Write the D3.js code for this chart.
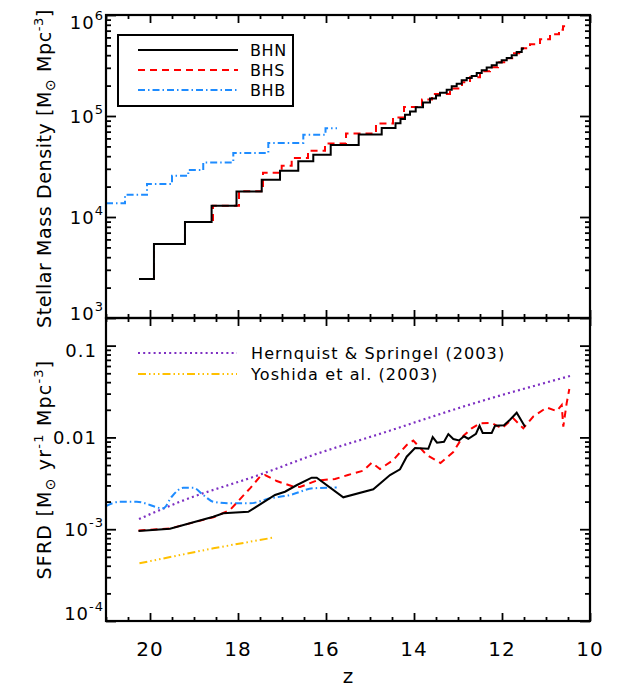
<!DOCTYPE html>
<html><head><meta charset="utf-8">
<script src="https://cdn.jsdelivr.net/npm/d3@7"></script>
<style>
body{margin:0;background:#fff}
svg{display:block}
text{font-family:"DejaVu Sans",sans-serif;fill:#000}
</style>
</head><body><svg id="c" width="625" height="692"></svg>
<script>
// ---------------- data ----------------
// Top panel: stellar mass density (step functions)
const bhnZ    = [20.25,19.91,19.205,18.6,18.034,17.461,17.045,16.63,16.289,15.893,15.257,14.734,14.42,14.307,14.205,14.091,13.961,13.795,13.636,13.5,13.409,13.257,13.143,13.03,12.916,12.802,12.689,12.575,12.461,12.348,12.234,12.12,12.007,11.893,11.78,11.666,11.552,11.5];
const bhnMass = [2430,5410,8930,12890,17890,23380,28720,35700,41420,51720,65500,75970,84800,93350,102800,110800,122300,136200,149300,159900,170100,182200,196500,209000,225400,237600,248700,266300,283400,301400,317800,338000,356200,375500,399500,430800,465600,465600];
const bhsZ    = [20.25,19.909,19.205,18.568,17.977,17.432,17.007,16.78,16.409,16.023,15.545,14.864,14.477,14.227,13.818,13.591,13.182,12.909,12.727,12.5,12.273,12.091,11.909,11.727,11.545,11.364,11.136,10.909,10.705,10.614,10.523];
const bhsMass = [2430,5410,8930,12890,17970,27450,32210,38420,45410,53290,66990,84230,96630,122900,145900,165400,187700,215300,241400,276900,303500,340200,372900,418100,468800,513600,575900,645800,715800,775800,775800];
const bhbZ    = [21,20.568,20.068,19.5,19.13,18.79,18.107,17.311,16.516,16.011,15.75];
const bhbMass = [13700,16590,21180,25620,29180,34740,43080,54140,65040,75620,75620];

// Bottom panel: star formation rate density
const sfrdBhnZ = [20.261,19.545,18.561,18.334,17.766,17.159,16.932,16.659,16.325,16.211,15.607,14.925,14.545,14.318,14.166,13.977,13.675,13.575,13.477,13.318,13.22,13.107,12.977,12.864,12.766,12.591,12.511,12.439,12.234,12.159,11.955,11.818,11.666,11.477];
const sfrdBhn  = [0.000956,0.001012,0.001368,0.00149,0.001547,0.002358,0.002562,0.003031,0.00364,0.00364,0.002227,0.002721,0.003895,0.004494,0.006163,0.007662,0.007529,0.0101,0.008756,0.008979,0.01089,0.009607,0.009252,0.01028,0.009679,0.01097,0.01338,0.01117,0.01117,0.01338,0.01355,0.01559,0.01858,0.01308];
const sfrdBhsZ = [20.261,19.545,18.561,18.182,17.727,17.5,17.386,17.12,16.75,16.591,16.211,15.795,15.5,15.152,14.961,14.773,14.47,14.166,14.016,13.711,13.398,13.107,12.88,12.689,12.5,12.234,12.007,11.743,11.516,11.289,10.984,10.757,10.643,10.607,10.53,10.47];
const sfrdBhs  = [0.000968,0.001018,0.001348,0.001619,0.00279,0.003732,0.003895,0.00335,0.002918,0.002882,0.003392,0.003521,0.003895,0.00434,0.005303,0.004528,0.005673,0.008265,0.009252,0.006431,0.005262,0.006934,0.01036,0.01256,0.01424,0.01435,0.01256,0.01614,0.01256,0.01689,0.02117,0.01939,0.02254,0.01308,0.02369,0.03366];
const sfrdBhbZ = [21,20.682,20.302,19.698,19.507,19.243,19.016,18.789,18.561,18.182,17.727,17.273,16.818,16.289,15.757];
const sfrdBhb  = [0.001789,0.001993,0.001993,0.001689,0.002259,0.002831,0.002831,0.002358,0.001993,0.001914,0.001914,0.002171,0.002358,0.00279,0.002845];
const hsZ    = [20.25,19.318,17.43,16.289,14.75,12.727,10.455];
const hsSfrd = [0.00129,0.001993,0.00404,0.006431,0.01103,0.02283,0.04665];
const yoshidaZ    = [20.24,18.56,17.21];
const yoshidaSfrd = [0.000425,0.00062,0.000808];

const zTicks = [20,18,16,14,12,10];
const massTicks = [1e3,1e4,1e5,1e6];
const massTickBase = ["10","10","10","10"];
const massTickExp  = ["3","4","5","6"];
const sfrdTicks = [1e-4,1e-3,0.01,0.1];
const sfrdTickBase = ["10","10","0.01","0.1"];
const sfrdTickExp  = ["-4","-3","",""];

const topLegend = ["BHN","BHS","BHB"];
const botLegend = ["Hernquist & Springel (2003)","Yoshida et al. (2003)"];

// ---------------- layout ----------------
const svg = d3.select("#c");
const L=106, R=590, T=15, M=318, B=621;
const x = d3.scaleLinear().domain([21,10]).range([L,R]);
const yTop = d3.scaleLog().domain([1e3,1e6]).range([M,T]);
const yBot = d3.scaleLog().domain([1e-4,0.2]).range([B,M]);

const defs = svg.append("defs");
defs.append("clipPath").attr("id","clipTop").append("rect").attr("x",L).attr("y",T).attr("width",R-L).attr("height",M-T);
defs.append("clipPath").attr("id","clipBot").append("rect").attr("x",L).attr("y",M).attr("width",R-L).attr("height",B-M);

const styles = {
  bhn:{stroke:"#000",dash:null,w:2},
  bhs:{stroke:"#ff0000",dash:"7,5",w:2},
  bhb:{stroke:"#1e8cff",dash:"7,3,1.5,3",w:2},
  hs:{stroke:"#7d2fc2",dash:"2,3.2",w:2.2},
  yo:{stroke:"#ffc000",dash:"8,3,1.5,3,1.5,3,1.5,3",w:2}
};

function drawLine(g, zs, vs, y, st, curve){
  const pts = zs.map((z,i)=>[x(z), y(vs[i])]);
  g.append("path").attr("d", d3.line().curve(curve||d3.curveLinear)(pts))
    .attr("fill","none").attr("stroke",st.stroke).attr("stroke-width",st.w)
    .attr("stroke-dasharray",st.dash).attr("stroke-linejoin","miter");
}

// top data
const gT = svg.append("g").attr("clip-path","url(#clipTop)");
drawLine(gT, bhbZ, bhbMass, yTop, styles.bhb, d3.curveStepAfter);
drawLine(gT, bhsZ, bhsMass, yTop, styles.bhs, d3.curveStepAfter);
drawLine(gT, bhnZ, bhnMass, yTop, styles.bhn, d3.curveStepAfter);

// bottom data
const gB = svg.append("g").attr("clip-path","url(#clipBot)");
drawLine(gB, hsZ, hsSfrd, yBot, styles.hs, d3.curveMonotoneX);
drawLine(gB, yoshidaZ, yoshidaSfrd, yBot, styles.yo);
drawLine(gB, sfrdBhbZ, sfrdBhb, yBot, styles.bhb, d3.curveMonotoneX);
drawLine(gB, sfrdBhsZ, sfrdBhs, yBot, styles.bhs);
drawLine(gB, sfrdBhnZ, sfrdBhn, yBot, styles.bhn);

// ---------------- axes ----------------
function logMinors(dom){
  const out=[];
  for(let e=Math.floor(Math.log10(dom[0])); e<Math.ceil(Math.log10(dom[1])); e++){
    for(let k=2;k<=9;k++){ const v=k*Math.pow(10,e); if(v>dom[0]*1.0001 && v<dom[1]*0.9999) out.push(v); }
  }
  return out;
}
const zMinor = d3.range(21,9.99,-0.5).filter(z=>Math.abs(z-Math.round(z/2)*2)>0.01);
const zMajor = zTicks;

function tickAxis(axisFn, scale, vals, size, transform){
  const g = svg.append("g").attr("transform",transform)
    .call(axisFn(scale).tickValues(vals).tickSize(size).tickFormat(""));
  g.select(".domain").remove();
  g.selectAll("line").attr("stroke","#000").attr("stroke-width",1.8);
  return g;
}

[[yTop,T,M,massTicks],[yBot,M,B,sfrdTicks]].forEach(([y,top,bot,maj])=>{
  const minors = logMinors(y.domain());
  tickAxis(d3.axisLeft, y, maj, -10, `translate(${L},0)`);
  tickAxis(d3.axisLeft, y, minors, -5, `translate(${L},0)`);
  tickAxis(d3.axisRight, y, maj, -10, `translate(${R},0)`);
  tickAxis(d3.axisRight, y, minors, -5, `translate(${R},0)`);
  tickAxis(d3.axisBottom, x, zMajor, -8, `translate(0,${bot})`);
  tickAxis(d3.axisBottom, x, zMinor, -4, `translate(0,${bot})`);
  tickAxis(d3.axisTop, x, zMajor, -8, `translate(0,${top})`);
  tickAxis(d3.axisTop, x, zMinor, -4, `translate(0,${top})`);
  svg.append("rect").attr("x",L).attr("y",top).attr("width",R-L).attr("height",bot-top)
    .attr("fill","none").attr("stroke","#000").attr("stroke-width",2.2);
});

// y tick labels
function yLabels(y, vals, base, exp, nudgeTop, nudgeBot){
  vals.forEach((v,i)=>{
    let yy = y(v) + 7;
    if(i===vals.length-1) yy += nudgeTop;
    if(i===0) yy += nudgeBot;
    const t = svg.append("text").attr("y",yy).attr("font-size",18).attr("text-anchor","end")
      .attr("letter-spacing",1);
    if(exp[i]){
      t.attr("x",L-2);
      t.append("tspan").text(base[i]);
      t.append("tspan").attr("dy",-9).attr("font-size",13).text(exp[i]);
    } else {
      t.attr("x",L-9).text(base[i]);
    }
  });
}
yLabels(yTop, massTicks, massTickBase, massTickExp, 7, -5);
yLabels(yBot, sfrdTicks, sfrdTickBase, sfrdTickExp, 4, -8);

// x tick labels
zTicks.forEach(z=>{
  svg.append("text").attr("x",x(z)).attr("y",656).attr("font-size",20).attr("text-anchor","middle")
    .attr("letter-spacing",1).text(z);
});
svg.append("text").attr("x",(L+R)/2).attr("y",683).attr("font-size",20).attr("text-anchor","middle").text("z");

// y titles
function yTitle(cy, parts, ls){
  const t = svg.append("text").attr("transform",`translate(51,${cy}) rotate(-90)`)
    .attr("text-anchor","middle").attr("font-size",19).attr("letter-spacing",ls);
  parts.forEach(p=>{
    const s = t.append("tspan").text(p.t);
    if(p.dy) s.attr("dy",p.dy);
    if(p.fs) s.attr("font-size",p.fs);
  });
}
yTitle((T+M)/2 + 2, [
  {t:"Stellar Mass Density [M"},
  {t:"\u2299",dy:4,fs:14},
  {t:" Mpc",dy:-4},
  {t:"-3",dy:-8,fs:13},
  {t:"]",dy:8}
], 0.6);
yTitle((M+B)/2, [
  {t:"SFRD [M"},
  {t:"\u2299",dy:4,fs:14},
  {t:" yr",dy:-4},
  {t:"-1",dy:-8,fs:13},
  {t:" Mpc",dy:8},
  {t:"-3",dy:-8,fs:13},
  {t:"]",dy:8}
], 1.2);

// legends
const gl = svg.append("g");
gl.append("rect").attr("x",118).attr("y",35).attr("width",175).attr("height",71)
  .attr("fill","#fff").attr("stroke","#000").attr("stroke-width",2);
[styles.bhn,styles.bhs,styles.bhb].forEach((st,i)=>{
  const yy = 50 + i*20;
  gl.append("line").attr("x1",138).attr("x2",238).attr("y1",yy).attr("y2",yy)
    .attr("stroke",st.stroke).attr("stroke-width",st.w).attr("stroke-dasharray",st.dash);
  gl.append("text").attr("x",250).attr("y",yy+6).attr("font-size",16).attr("letter-spacing",0.6).text(topLegend[i]);
});
[styles.hs,styles.yo].forEach((st,i)=>{
  const yy = 353 + i*21;
  gl.append("line").attr("x1",138).attr("x2",237).attr("y1",yy).attr("y2",yy)
    .attr("stroke",st.stroke).attr("stroke-width",st.w).attr("stroke-dasharray",st.dash);
  gl.append("text").attr("x",251).attr("y",yy+6).attr("font-size",16).attr("letter-spacing",1.1).text(botLegend[i]);
});
</script></body></html>
